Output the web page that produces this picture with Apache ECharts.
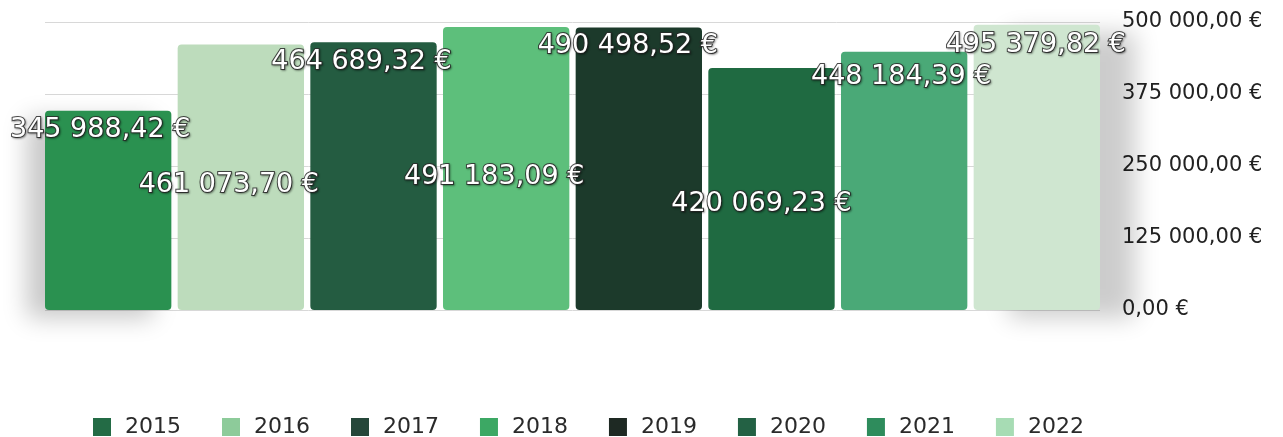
<!DOCTYPE html>
<html>
<head>
<meta charset="utf-8">
<script src="https://cdn.jsdelivr.net/npm/echarts@6/dist/echarts.min.js"></script>
<style>
html,body{margin:0;padding:0;background:#fff;}
#chart{width:1283px;height:437px;}
</style>
</head>
<body>
<div id="chart"></div>
<script>
// Data
var years = ['2015','2016','2017','2018','2019','2020','2021','2022'];
var amounts = [345988.42, 461073.70, 464689.32, 491183.09, 490498.52, 420069.23, 448184.39, 495379.82];
var axisTicks = [0, 125000, 250000, 375000, 500000];

// Styles
var barColors = ['#2a9150','#bddcbc','#245c41','#5dbf7b','#1c3a2b','#1f6a41','#4aa977','#cfe6d0'];
var legendColors = ['#236b45','#8dcb9a','#25473a','#3ca864','#1e2923','#236144','#2e8c5c','#a7dcb4'];
var labelPlace = [
  {position:'insideTop', offset:[-8, 6]},
  {position:'inside',    offset:[-12, 8]},
  {position:'insideTop', offset:[-12, 6]},
  {position:'inside',    offset:[-12, 8]},
  {position:'insideTop', offset:[-11, 5]},
  {position:'inside',    offset:[-10, 15]},
  {position:'insideTop', offset:[-3, 12]},
  {position:'insideTop', offset:[-1, 7]}
];

function fmt(v){
  var s = v.toFixed(2).replace('.', ',');
  s = s.replace(/\B(?=(\d{3})+(?!\d))/g, ' ');
  return s + ' €';
}

var chart = echarts.init(document.getElementById('chart'), null, {renderer:'canvas'});

var series = years.map(function(y, i){
  var s = {
    name: y,
    type: 'bar',
    data: [amounts[i]],
    barGap: '5%',
    barCategoryGap: 0,
    itemStyle: {color: barColors[i], borderRadius: 4},
    label: {
      show: true,
      position: labelPlace[i].position,
      offset: labelPlace[i].offset,
      distance: 0,
      formatter: function(p){ return fmt(p.value); },
      color: '#ffffff',
      fontFamily: 'DejaVu Sans',
      fontSize: 27,
      textBorderColor: 'rgba(45,45,45,0.85)',
      textBorderWidth: 2,
      textShadowColor: 'rgba(0,0,0,0.35)',
      textShadowBlur: 2,
      textShadowOffsetX: 1,
      textShadowOffsetY: 1
    }
  };
  if (i === 0) {
    s.itemStyle.shadowColor = 'rgba(0,0,0,0.22)';
    s.itemStyle.shadowBlur = 25;
    s.itemStyle.shadowOffsetX = -18;
    s.itemStyle.shadowOffsetY = 8;
  }
  if (i === years.length - 1) {
    s.itemStyle.shadowColor = 'rgba(0,0,0,0.2)';
    s.itemStyle.shadowBlur = 25;
    s.itemStyle.shadowOffsetX = 35;
    s.itemStyle.shadowOffsetY = 8;
  }
  return s;
});

var option = {
  backgroundColor: '#ffffff',
  animation: false,
  grid: {left: 45, right: 183, top: 22, bottom: 127, containLabel: false},
  xAxis: {
    type: 'category',
    data: [''],
    axisLine: {show: false},
    axisTick: {show: false},
    axisLabel: {show: false}
  },
  yAxis: {
    type: 'value',
    position: 'right',
    min: axisTicks[0],
    max: axisTicks[axisTicks.length - 1],
    interval: axisTicks[1] - axisTicks[0],
    axisLine: {show: false},
    axisTick: {show: false},
    splitLine: {show: true, lineStyle: {color: '#d8d8d8', width: 1}},
    axisLabel: {
      margin: 22,
      color: '#222222',
      fontFamily: 'DejaVu Sans',
      fontSize: 21,
      formatter: function(v){ return fmt(v); }
    }
  },
  legend: {
    left: 88,
    top: 411,
    itemWidth: 18,
    itemHeight: 18,
    itemGap: 41,
    icon: 'rect',
    data: years.map(function(y, i){ return {name: y, itemStyle: {color: legendColors[i]}}; }),
    textStyle: {
      color: '#2a2a2a',
      fontFamily: 'DejaVu Sans',
      fontSize: 22,
      padding: [0, 0, 0, 9]
    }
  },
  series: series
};

chart.setOption(option);
</script>
</body>
</html>
